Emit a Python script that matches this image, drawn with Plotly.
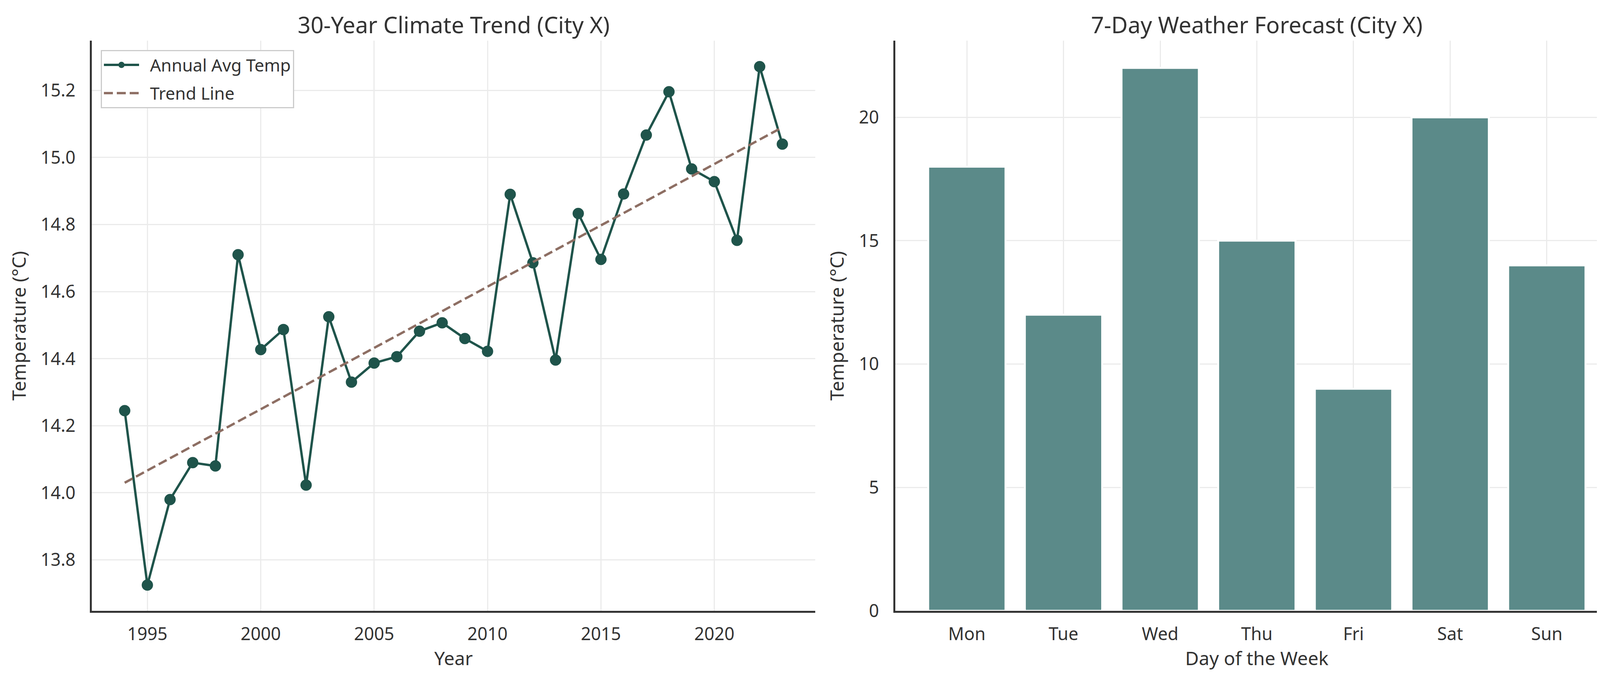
import plotly.graph_objects as go

# left panel: annual averages
years = [1994, 1995, 1996, 1997, 1998, 1999, 2000, 2001, 2002, 2003,
         2004, 2005, 2006, 2007, 2008, 2009, 2010, 2011, 2012, 2013,
         2014, 2015, 2016, 2017, 2018, 2019, 2020, 2021, 2022, 2023]
avg_temps = [14.245, 13.725, 13.98, 14.09, 14.08, 14.71, 14.427, 14.487, 14.023, 14.525,
             14.33, 14.387, 14.406, 14.482, 14.507, 14.46, 14.422, 14.89, 14.686, 14.396,
             14.833, 14.696, 14.891, 15.067, 15.196, 14.966, 14.928, 14.753, 15.271, 15.04]
trend_years = [1994, 2023]
trend_temps = [14.03, 15.09]

# right panel: daily forecast
days = ["Mon", "Tue", "Wed", "Thu", "Fri", "Sat", "Sun"]
day_temps = [18, 12, 22, 15, 9, 20, 14]

W, H = 4162, 1763
FONT = "Noto Sans"
TXT = "#333333"
GRID = "#ebebeb"
SPINE = "#333333"
GAP = "\u00a0\u00a0"  # a little room between legend sample and its text

fig = go.Figure()

fig.add_trace(go.Scatter(
    x=years, y=avg_temps, mode="lines+markers", name=GAP + "Annual Avg Temp",
    line=dict(color="#1f544b", width=6),
    marker=dict(color="#1f544b", size=29),
    legendgroup="a", xaxis="x", yaxis="y",
))
fig.add_trace(go.Scatter(
    x=trend_years, y=trend_temps, mode="lines", name=GAP + "Trend Line",
    line=dict(color="#8d6e63", width=6, dash="23px,10px"),
    legendgroup="b", xaxis="x", yaxis="y",
))
fig.add_trace(go.Bar(
    x=days, y=day_temps, name="Forecast", showlegend=False,
    marker=dict(color="#5b8a89", line=dict(color="white", width=5)),
    xaxis="x2", yaxis="y2",
))

axis_common = dict(
    showgrid=True, gridcolor=GRID, gridwidth=3,
    showline=True, linecolor=SPINE, linewidth=4.5,
    ticks="", zeroline=False,
    tickfont=dict(family=FONT, size=45, color=TXT),
)
title_font = dict(family=FONT, size=48, color=TXT)
ydom = [182 / H, (H - 98) / H]

fig.update_layout(
    width=W, height=H,
    margin=dict(l=0, r=0, t=0, b=0),
    paper_bgcolor="white", plot_bgcolor="white",
    font=dict(family=FONT, color=TXT),
    bargap=0.2,
    xaxis=dict(axis_common, domain=[227 / W, 2079 / W], range=[1992.55, 2024.45],
               tickvals=[1995, 2000, 2005, 2010, 2015, 2020], anchor="y",
               ticklabelstandoff=16,
               title=dict(text="Year", font=title_font, standoff=12)),
    yaxis=dict(axis_common, domain=ydom, range=[13.648, 15.348],
               tickvals=[13.8, 14.0, 14.2, 14.4, 14.6, 14.8, 15.0, 15.2], tickformat=".1f",
               anchor="x", ticklabelstandoff=28,
               title=dict(text="Temperature (°C)", font=title_font, standoff=24)),
    xaxis2=dict(axis_common, domain=[2284 / W, 4135 / W], range=[-0.74, 6.74],
                anchor="y2", ticklabelstandoff=16,
                title=dict(text="Day of the Week", font=title_font, standoff=12)),
    yaxis2=dict(axis_common, domain=ydom, range=[0, 23.1], tickvals=[0, 5, 10, 15, 20],
                anchor="x2", ticklabelstandoff=28,
                title=dict(text="Temperature (°C)", font=title_font, standoff=24)),
    legend=dict(
        x=250 / W, y=(H - 122) / H, xanchor="left", yanchor="top",
        bgcolor="white", bordercolor="#cccccc", borderwidth=3,
        font=dict(family=FONT, size=44, color=TXT),
        itemwidth=90, tracegroupgap=12,
    ),
    annotations=[
        dict(text="30-Year Climate Trend (City X)", x=0.5, xref="x domain", y=(H - 55) / H,
             yref="paper", xanchor="center", yanchor="middle", showarrow=False,
             font=dict(family=FONT, size=58, color=TXT)),
        dict(text="7-Day Weather Forecast (City X)", x=0.5, xref="x2 domain", y=(H - 55) / H,
             yref="paper", xanchor="center", yanchor="middle", showarrow=False,
             font=dict(family=FONT, size=58, color=TXT)),
    ],
)

fig.write_html("out.html")
